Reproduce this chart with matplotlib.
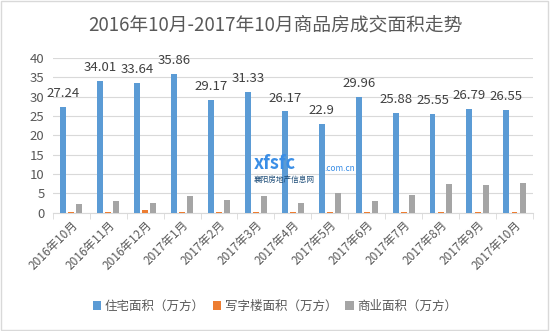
import numpy as np
import matplotlib.pyplot as plt
from matplotlib.patches import Rectangle

plt.rcParams['font.family'] = ['Noto Sans CJK SC', 'DejaVu Sans']

months = ['2016年10月', '2016年11月', '2016年12月', '2017年1月', '2017年2月', '2017年3月',
          '2017年4月', '2017年5月', '2017年6月', '2017年7月', '2017年8月', '2017年9月', '2017年10月']
residential = [27.24, 34.01, 33.64, 35.86, 29.17, 31.33, 26.17, 22.9, 29.96, 25.88, 25.55, 26.79, 26.55]
office = [0.3, 0.3, 0.7, 0.3, 0.3, 0.3, 0.3, 0.3, 0.3, 0.3, 0.3, 0.3, 0.3]
commercial = [2.2, 3.1, 2.5, 4.3, 3.4, 4.3, 2.5, 5.1, 3.1, 4.5, 7.5, 7.2, 7.8]

txt = '#595959'
fig = plt.figure(figsize=(5.5, 3.31), dpi=100)
fig.patches.append(Rectangle((0.002, 0.003), 0.995, 0.994, transform=fig.transFigure,
                             fill=False, edgecolor='#d9d9d9', linewidth=1))
ax = fig.add_axes([0.096, 0.357, 0.873, 0.468])

x = np.arange(len(months))
w = 0.16
step = 0.22
ax.bar(x - step, residential, w, color='#5b9bd5', label='住宅面积（万方）', zorder=3)
ax.bar(x, office, w, color='#ed7d31', label='写字楼面积（万方）', zorder=3)
ax.bar(x + step, commercial, w, color='#a5a5a5', label='商业面积（万方）', zorder=3)

for xi, v in zip(x, residential):
    ax.text(xi - step, v + 1.8, f'{v:g}', ha='center', va='bottom', fontsize=9.5, color='#404040')

ax.set_xlim(-0.5, len(months) - 0.5)
ax.set_ylim(0, 40)
ax.set_yticks(range(0, 41, 5))
ax.grid(axis='y', color='#d9d9d9', linewidth=0.8, zorder=0)
for s in ['top', 'right', 'left']:
    ax.spines[s].set_visible(False)
ax.spines['bottom'].set_color('#d9d9d9')
ax.tick_params(axis='y', length=0, labelsize=9.5, colors=txt, pad=6)
ax.set_xticks(x)
ax.set_xticklabels(months, rotation=45, ha='right', rotation_mode='anchor', fontsize=8.5, color=txt)
ax.tick_params(axis='x', length=0, pad=4)
ax.set_xticks(np.arange(-0.5, len(months), 1), minor=True)
ax.tick_params(axis='x', which='minor', length=4, color='#d9d9d9')

fig.text(0.5, 0.925, '2016年10月-2017年10月商品房成交面积走势', ha='center', va='center',
         fontsize=13.5, color=txt)

# watermark
fig.text(0.462, 0.505, 'xfsfc', fontsize=13, color='#3a8ee6', fontweight='bold', ha='left', va='center')
fig.text(0.59, 0.49, '.com.cn', fontsize=6, color='#3a8ee6', ha='left', va='center')
fig.text(0.462, 0.455, '襄阳房地产信息网', fontsize=5.5, color='#1f4e79', ha='left', va='center')

fig.legend(loc='center', bbox_to_anchor=(0.5, 0.075), ncol=3, frameon=False, fontsize=9,
           handlelength=0.7, handleheight=0.7, handletextpad=0.3, columnspacing=0.6,
           labelcolor=txt)

fig.savefig('out.png', dpi=100)
